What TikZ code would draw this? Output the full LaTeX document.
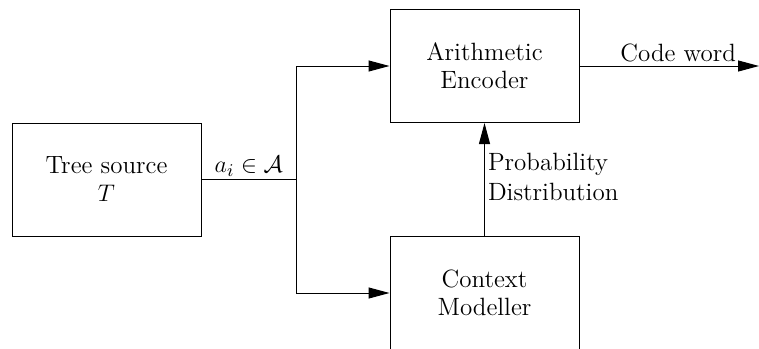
\documentclass[tikz,border=0pt]{standalone}
\usetikzlibrary{arrows.meta}
\begin{document}
\begin{tikzpicture}[x=0.5pt,y=-0.5pt,
  block/.style={draw,line width=0.5pt,minimum width=94.5pt,minimum height=56.5pt,
    align=center,inner sep=0pt,font=\fontsize{12.5}{14}\selectfont},
  wire/.style={line width=0.5pt},
  flow/.style={wire,-{Triangle[length=10.5pt,width=5.5pt]}},
  lbl/.style={font=\fontsize{12.5}{15}\selectfont,inner sep=1.5pt}]
\useasboundingbox (0,0) rectangle (759,348);
\clip (0,0) rectangle (759,348);
\node[block] (src) at (106.5,179.5) {Tree source\\$T$};
\node[block] (enc) at (484.5,66) {Arithmetic\\Encoder};
\node[block,anchor=north] (mod) at (484.5,236) {Context\\Modeller};
\coordinate (split) at (296,179.5);
\coordinate (out) at (759,66);
\draw[wire] (src.east) -- node[lbl,above] {$a_i \in \mathcal{A}$} (split);
\draw[flow] (split) |- (enc.west);
\draw[flow] (split) |- (mod.west);
\draw[flow] (enc.east) -- node[lbl,above,pos=0.55] {Code word} (out);
\draw[flow] (mod.north) -- node[lbl,right,align=left,pos=0.52] {Probability\\Distribution} (enc.south);
\end{tikzpicture}
\end{document}
